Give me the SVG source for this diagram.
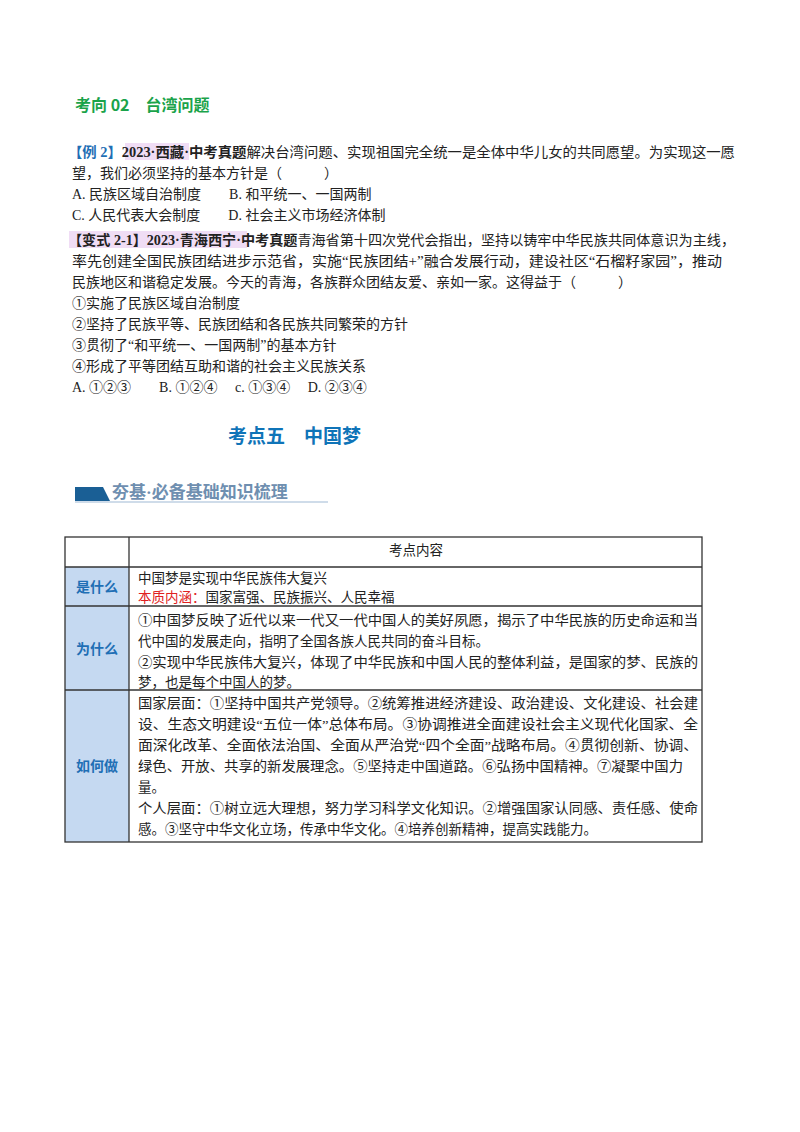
<svg xmlns="http://www.w3.org/2000/svg" width="800" height="1132" viewBox="0 0 800 1132">
<style>
text{font-family:"Liberation Serif","Noto Sans CJK SC",serif;font-size:14px;fill:#222}
.g{fill:#1aa34a;font-weight:bold;font-size:16px;font-family:"Noto Sans CJK SC",sans-serif}
.b{fill:#1f6fb5;font-weight:bold}
.k{font-weight:bold}
.h{fill:#0f74b8;font-weight:bold;font-size:19px;font-family:"Noto Sans CJK SC",sans-serif}
.lab{fill:#1f6fb5;font-weight:bold;font-size:14px;font-family:"Noto Sans CJK SC",sans-serif}
.t{font-size:13.5px}
.r{fill:#e02020}
</style>
<rect width="800" height="1132" fill="#fff"/>
<text class="g" x="75" y="111">考向 02　台湾问题</text>
<rect x="125" y="143" width="64" height="17" fill="#f0ddf5"/>
<text x="68" y="157" textLength="667" lengthAdjust="spacingAndGlyphs"><tspan class="b">【例 2】</tspan><tspan class="k">2023·西藏·中考真题</tspan>解决台湾问题、实现祖国完全统一是全体中华儿女的共同愿望。为实现这一愿</text>
<text x="72" y="178">望，我们必须坚持的基本方针是（　　　）</text>
<text x="72" y="199">A. 民族区域自治制度　　B. 和平统一、一国两制</text>
<text x="72" y="220">C. 人民代表大会制度　　D. 社会主义市场经济体制</text>
<rect x="69" y="231" width="178" height="17" fill="#f0ddf5"/>
<text x="68" y="245" textLength="667" lengthAdjust="spacingAndGlyphs"><tspan class="k">【变式 2-1】2023·青海西宁·中考真题</tspan>青海省第十四次党代会指出，坚持以铸牢中华民族共同体意识为主线，</text>
<text x="72" y="266" textLength="650" lengthAdjust="spacingAndGlyphs">率先创建全国民族团结进步示范省，实施“民族团结+”融合发展行动，建设社区“石榴籽家园”，推动</text>
<text x="72" y="287">民族地区和谐稳定发展。今天的青海，各族群众团结友爱、亲如一家。这得益于（　　　）</text>
<text x="72" y="308">①实施了民族区域自治制度</text>
<text x="72" y="329">②坚持了民族平等、民族团结和各民族共同繁荣的方针</text>
<text x="72" y="350">③贯彻了“和平统一、一国两制”的基本方针</text>
<text x="72" y="371">④形成了平等团结互助和谐的社会主义民族关系</text>
<text x="72" y="392">A. ①②③　　B. ①②④　 c. ①③④　 D. ②③④</text>
<text class="h" x="228" y="443">考点五　中国梦</text>
<polygon points="75,487 103,487 110,501 75,501" fill="#1a5f95"/>
<text x="112" y="498" style="fill:#6f8fb0;font-weight:bold;font-size:17px">夯基·必备基础知识梳理</text>
<line x1="75" y1="502" x2="328" y2="502" stroke="#9fb9d4" stroke-width="1"/>
<g id="table">
<rect x="65" y="567" width="64" height="275" fill="#c5d9f1"/>
<rect x="65" y="537" width="637" height="305" fill="none" stroke="#333" stroke-width="1.3"/>
<line x1="129" y1="537" x2="129" y2="842" stroke="#333" stroke-width="1.3"/>
<line x1="65" y1="567" x2="702" y2="567" stroke="#333" stroke-width="1.3"/>
<line x1="65" y1="606" x2="702" y2="606" stroke="#333" stroke-width="1.3"/>
<line x1="65" y1="690" x2="702" y2="690" stroke="#333" stroke-width="1.3"/>
<text class="t" x="416" y="555" text-anchor="middle">考点内容</text>
<text class="lab" x="97" y="592" text-anchor="middle">是什么</text>
<text class="lab" x="97" y="654" text-anchor="middle">为什么</text>
<text class="lab" x="97" y="771" text-anchor="middle">如何做</text>
<text class="t" x="138" y="583">中国梦是实现中华民族伟大复兴</text>
<text class="t" x="138" y="602"><tspan class="r">本质内涵：</tspan>国家富强、民族振兴、人民幸福</text>
<text class="t" x="138" y="625" textLength="560" lengthAdjust="spacingAndGlyphs">①中国梦反映了近代以来一代又一代中国人的美好夙愿，揭示了中华民族的历史命运和当</text>
<text class="t" x="138" y="646">代中国的发展走向，指明了全国各族人民共同的奋斗目标。</text>
<text class="t" x="138" y="667" textLength="560" lengthAdjust="spacingAndGlyphs">②实现中华民族伟大复兴，体现了中华民族和中国人民的整体利益，是国家的梦、民族的</text>
<text class="t" x="138" y="687">梦，也是每个中国人的梦。</text>
<text class="t" x="138" y="708" textLength="560" lengthAdjust="spacingAndGlyphs">国家层面：①坚持中国共产党领导。②统筹推进经济建设、政治建设、文化建设、社会建</text>
<text class="t" x="138" y="729" textLength="560" lengthAdjust="spacingAndGlyphs">设、生态文明建设“五位一体”总体布局。③协调推进全面建设社会主义现代化国家、全</text>
<text class="t" x="138" y="750" textLength="560" lengthAdjust="spacingAndGlyphs">面深化改革、全面依法治国、全面从严治党“四个全面”战略布局。④贯彻创新、协调、</text>
<text class="t" x="138" y="771" textLength="545" lengthAdjust="spacingAndGlyphs">绿色、开放、共享的新发展理念。⑤坚持走中国道路。⑥弘扬中国精神。⑦凝聚中国力</text>
<text class="t" x="138" y="792">量。</text>
<text class="t" x="138" y="813" textLength="560" lengthAdjust="spacingAndGlyphs">个人层面：①树立远大理想，努力学习科学文化知识。②增强国家认同感、责任感、使命</text>
<text class="t" x="138" y="834">感。③坚守中华文化立场，传承中华文化。④培养创新精神，提高实践能力。</text>
</g>
</svg>
